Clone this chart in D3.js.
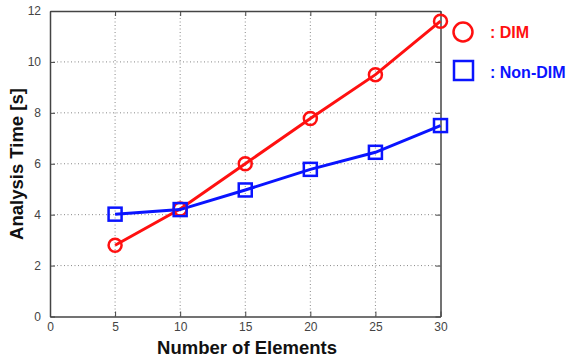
<!DOCTYPE html>
<html><head><meta charset="utf-8">
<script src="https://cdn.jsdelivr.net/npm/d3@7"></script>
<style>body{margin:0;background:#fff}svg{display:block}</style>
</head><body>
<script>
const xTicks = [0,5,10,15,20,25,30];
const yTicks = [0,2,4,6,8,10,12];
const elements = [5,10,15,20,25,30];
const dim = [2.8,4.22,6.0,7.78,9.5,11.6];
const nonDim = [4.02,4.2,4.97,5.78,6.45,7.5];
const seriesNames = [": DIM", ": Non-DIM"];

const W=581,H=357;
const svg=d3.select("body").append("svg").attr("width",W).attr("height",H);
const x=d3.scaleLinear().domain([0,30]).range([50,440.5]);
const y=d3.scaleLinear().domain([0,12]).range([316.5,11]);
const axisCol="#444", tickCol="#444";

// grid
const g=svg.append("g");
g.selectAll(".gx").data(xTicks.slice(1,-1)).join("line")
 .attr("x1",d=>x(d)).attr("x2",d=>x(d)).attr("y1",y(0)).attr("y2",y(12))
 .attr("stroke","#888").attr("stroke-width",1).attr("stroke-dasharray","1,2.5");
g.selectAll(".gy").data(yTicks.slice(1,-1)).join("line")
 .attr("y1",d=>y(d)).attr("y2",d=>y(d)).attr("x1",x(0)).attr("x2",x(30))
 .attr("stroke","#888").attr("stroke-width",1).attr("stroke-dasharray","1,2.5");

// axes with inward ticks
const ax=svg.append("g").attr("transform",`translate(0,${y(0)})`)
 .call(d3.axisBottom(x).tickValues(xTicks).tickSizeInner(-5).tickSizeOuter(0).tickPadding(6));
const ay=svg.append("g").attr("transform",`translate(${x(0)},0)`)
 .call(d3.axisLeft(y).tickValues(yTicks).tickSizeInner(-5).tickSizeOuter(0).tickPadding(9));
const at=svg.append("g").attr("transform",`translate(0,${y(12)})`)
 .call(d3.axisTop(x).tickValues(xTicks).tickSizeInner(-5).tickSizeOuter(0).tickFormat(""));
const ar=svg.append("g").attr("transform",`translate(${x(30)},0)`)
 .call(d3.axisRight(y).tickValues(yTicks).tickSizeInner(-5).tickSizeOuter(0).tickFormat(""));
[ax,ay,at,ar].forEach(a=>{
  a.select(".domain").attr("stroke",axisCol).attr("stroke-width",1.5);
  a.selectAll(".tick line").attr("stroke",axisCol);
  a.selectAll(".tick text").attr("fill",tickCol).style("font-family","Arial, Liberation Sans, sans-serif").style("font-size","12px");
});

// lines
const line=d3.line().x((d,i)=>x(elements[i])).y(d=>y(d));
const red="#ff1010", blue="#0a14ff";
svg.append("path").datum(dim).attr("d",line).attr("fill","none").attr("stroke",red).attr("stroke-width",3);
svg.append("path").datum(nonDim).attr("d",line).attr("fill","none").attr("stroke",blue).attr("stroke-width",3);
svg.selectAll(".c").data(dim).join("circle")
 .attr("cx",(d,i)=>x(elements[i])).attr("cy",d=>y(d)).attr("r",6.5)
 .attr("fill","none").attr("stroke",red).attr("stroke-width",2.5);
svg.selectAll(".s").data(nonDim).join("rect")
 .attr("x",(d,i)=>x(elements[i])-6.5).attr("y",d=>y(d)-6.5).attr("width",13).attr("height",13)
 .attr("fill","none").attr("stroke",blue).attr("stroke-width",2.5);

// titles
const ff="Arial, Liberation Sans, sans-serif";
svg.append("text").attr("x",247).attr("y",354).attr("text-anchor","middle")
 .style("font-family",ff).style("font-weight","bold").style("font-size","18.5px").attr("fill","#111").text("Number of Elements");
svg.append("text").attr("transform","translate(23,164) rotate(-90)").attr("text-anchor","middle")
 .style("font-family",ff).style("font-weight","bold").style("font-size","18.5px").attr("fill","#111").text("Analysis Time [s]");

// legend
svg.append("circle").attr("cx",463).attr("cy",32).attr("r",9.5).attr("fill","none").attr("stroke",red).attr("stroke-width",2.5);
svg.append("rect").attr("x",454).attr("y",61).attr("width",19).attr("height",19).attr("fill","none").attr("stroke",blue).attr("stroke-width",2.5);
svg.append("text").attr("x",490).attr("y",38).style("font-family",ff).style("font-weight","bold").style("font-size","16px").attr("fill",red).text(seriesNames[0]);
svg.append("text").attr("x",490).attr("y",78).style("font-family",ff).style("font-weight","bold").style("font-size","16px").attr("fill",blue).text(seriesNames[1]);
</script>
</body></html>
